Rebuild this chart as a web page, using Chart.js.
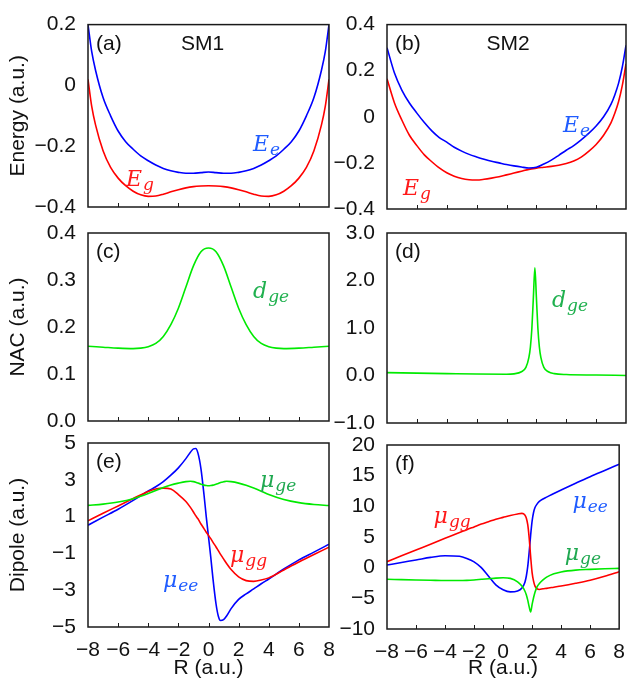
<!DOCTYPE html>
<html>
<head>
<meta charset="utf-8">
<title>SM1 / SM2 potential curves</title>
<script src="https://cdn.jsdelivr.net/npm/chart.js@4.4.0/dist/chart.umd.min.js"></script>
<style>
  html, body { margin: 0; padding: 0; background: #fff; }
  #wrap { position: relative; width: 636px; height: 681px; }
  #wrap canvas { position: absolute; left: 0; top: 0; }
</style>
</head>
<body>
<div id="wrap">
  <canvas id="pa" width="636" height="681"></canvas>
  <canvas id="pb" width="636" height="681"></canvas>
  <canvas id="pc" width="636" height="681"></canvas>
  <canvas id="pd" width="636" height="681"></canvas>
  <canvas id="pe" width="636" height="681"></canvas>
  <canvas id="pf" width="636" height="681"></canvas>
</div>
<script>
// ---- data ----
const xTicks = [-8, -6, -4, -2, 0, 2, 4, 6, 8];

// (a) SM1 energies
const rA  = [-8, -7.75, -7.5, -7, -6.5, -6, -5.5, -5, -4.5, -4, -3.5, -3, -2.5, -2, -1.5, -1, -0.5, 0,
             0.5, 1, 1.5, 2, 2.5, 3, 3.5, 4, 4.5, 5, 5.5, 6, 6.5, 7, 7.5, 7.75, 8];
const eeA = [0.20, 0.11, 0.05, -0.04, -0.10, -0.15, -0.185, -0.21, -0.232, -0.248, -0.262, -0.273, -0.281, -0.286, -0.289, -0.289, -0.287, -0.285,
             -0.287, -0.289, -0.289, -0.286, -0.281, -0.273, -0.262, -0.248, -0.232, -0.21, -0.185, -0.15, -0.10, -0.04, 0.05, 0.11, 0.20];
const egA = [0.02, -0.07, -0.13, -0.215, -0.27, -0.305, -0.33, -0.348, -0.36, -0.365, -0.364, -0.358, -0.35, -0.343, -0.337, -0.333, -0.331, -0.330,
             -0.331, -0.333, -0.337, -0.343, -0.35, -0.358, -0.364, -0.365, -0.36, -0.348, -0.33, -0.305, -0.27, -0.215, -0.13, -0.07, 0.02];
const yTicksA = [-0.4, -0.2, 0, 0.2];

// (b) SM2 energies
const rB  = [-8, -7.5, -7, -6.5, -6, -5.5, -5, -4.5, -4, -3.5, -3, -2.5, -2, -1.5, -1, -0.5, 0,
             0.5, 1, 1.5, 2, 2.5, 3, 3.5, 4, 4.5, 5, 5.5, 6, 6.5, 7, 7.25, 7.5, 7.75, 8];
const eeB = [0.30, 0.19, 0.115, 0.06, 0.016, -0.025, -0.061, -0.09, -0.11, -0.132, -0.149, -0.163, -0.174, -0.184, -0.193, -0.2, -0.207,
             -0.213, -0.218, -0.222, -0.219, -0.205, -0.188, -0.167, -0.145, -0.125, -0.1, -0.072, -0.04, 0.0, 0.055, 0.095, 0.145, 0.215, 0.31];
const egB = [0.165, 0.06, -0.015, -0.08, -0.125, -0.165, -0.195, -0.222, -0.243, -0.258, -0.268, -0.273, -0.274, -0.271, -0.266, -0.26, -0.252,
             -0.244, -0.236, -0.228, -0.223, -0.219, -0.215, -0.21, -0.203, -0.192, -0.175, -0.15, -0.12, -0.08, -0.025, 0.015, 0.065, 0.135, 0.23];
const yTicksB = [-0.4, -0.2, 0, 0.2, 0.4];

// (c) SM1 coupling
const rC  = [-8, -7, -6, -5, -4.5, -4, -3.5, -3, -2.5, -2, -1.5, -1, -0.5, 0,
             0.5, 1, 1.5, 2, 2.5, 3, 3.5, 4, 4.5, 5, 6, 7, 8];
const dgeC = [0.159, 0.157, 0.155, 0.154, 0.155, 0.158, 0.165, 0.18, 0.205, 0.24, 0.285, 0.33, 0.36, 0.368,
              0.36, 0.33, 0.285, 0.24, 0.205, 0.18, 0.165, 0.158, 0.155, 0.154, 0.155, 0.157, 0.159];
const yTicksC = [0, 0.1, 0.2, 0.3, 0.4];

// (d) SM2 coupling
const rD  = [-8, -6, -4, -2, 0, 0.5, 1, 1.3, 1.5, 1.6, 1.7, 1.8, 1.9, 2.0, 2.1, 2.2, 2.3, 2.5, 2.8, 3.2, 4, 6, 8];
const dgeD = [0.06, 0.05, 0.04, 0.03, 0.025, 0.035, 0.08, 0.17, 0.38, 0.6, 1.0, 1.65, 2.27, 1.65, 1.0, 0.6, 0.38, 0.17, 0.08, 0.04, 0.02, 0.01, 0.0];
const yTicksD = [-1, 0, 1, 2, 3];

// (e) SM1 dipoles
const rE   = [-8, -7, -6, -5, -4, -3.5, -3, -2.5, -2, -1.5, -1.2, -1, -0.85, -0.7, -0.5, -0.3, -0.15, 0,
              0.15, 0.3, 0.5, 0.65, 0.8, 1, 1.2, 1.5, 2, 2.5, 3, 3.5, 4, 5, 6, 7, 8];
const meeE = [0.53, 0.97, 1.40, 1.88, 2.39, 2.62, 2.9, 3.25, 3.65, 4.15, 4.5, 4.68, 4.7, 4.45, 3.6, 2.2, 1.0, -0.1,
              -1.2, -2.4, -3.75, -4.4, -4.65, -4.6, -4.4, -4.0, -3.5, -3.2, -2.93, -2.65, -2.39, -1.85, -1.35, -0.93, -0.5];
const mggE = [0.77, 1.18, 1.58, 1.98, 2.37, 2.5, 2.55, 2.5, 2.2, 1.82, 1.5, 1.25, 1.05, 0.88, 0.6, 0.35, 0.15, -0.02,
              -0.2, -0.4, -0.65, -0.85, -1.05, -1.3, -1.55, -1.88, -2.28, -2.48, -2.52, -2.45, -2.33, -1.9, -1.47, -1.06, -0.66];
const mgeE = [1.61, 1.68, 1.79, 1.97, 2.25, 2.42, 2.58, 2.72, 2.82, 2.9, 2.92, 2.9, 2.87, 2.82, 2.76, 2.71, 2.69, 2.68,
              2.69, 2.71, 2.76, 2.8, 2.85, 2.89, 2.92, 2.9, 2.82, 2.7, 2.55, 2.38, 2.2, 1.93, 1.76, 1.66, 1.6];
const yTicksE = [-5, -3, -1, 1, 3, 5];

// (f) SM2 dipoles
const rF   = [-8, -7, -6, -5, -4, -3, -2.5, -2, -1.5, -1, -0.5, 0, 0.5, 1, 1.3, 1.5, 1.6, 1.7, 1.8, 1.9,
              2.0, 2.1, 2.2, 2.35, 2.5, 2.75, 3, 3.5, 4, 5, 6, 7, 8];
const mggF = [0.98, 1.93, 2.88, 3.83, 4.78, 5.72, 6.2, 6.65, 7.1, 7.5, 7.9, 8.2, 8.5, 8.75, 8.85, 8.6, 8.1, 7.0, 4.8, 1.8,
              -0.8, -2.2, -3.0, -3.45, -3.55, -3.45, -3.37, -3.18, -2.99, -2.55, -2.05, -1.4, -0.65];
const meeF = [0.43, 0.85, 1.25, 1.68, 1.95, 1.85, 1.5, 0.95, 0.0, -1.4, -2.8, -3.6, -3.95, -3.8, -3.3, -2.4, -1.4, 0.2, 2.6, 5.3,
              7.6, 9.0, 9.8, 10.4, 10.8, 11.2, 11.5, 12.1, 12.66, 13.75, 14.84, 15.85, 16.85];
const mgeF = [-1.9, -1.95, -2.0, -2.05, -2.1, -2.1, -2.07, -2.0, -1.9, -1.8, -1.7, -1.65, -1.75, -2.3, -3.0, -3.8, -4.4, -5.3, -6.4, -7.2,
              -6.0, -4.9, -4.0, -3.1, -2.6, -2.0, -1.55, -1.0, -0.7, -0.4, -0.28, -0.18, -0.12];
const yTicksF = [-10, -5, 0, 5, 10, 15, 20];

// ---- drawing ----
const W = 636, H = 681;
const SANS = "'Liberation Sans', Arial, sans-serif";
const MATH = "'DejaVu Serif', serif";
const FS = 21;
const BLUE = '#0000ff', RED = '#ff0000', GREEN = '#00ea00';

const minus = s => String(s).replace('-', '\u2212');
const fmtInt = v => minus(v);
const fmtOne = v => minus(Number(v).toFixed(1));
const fmtEnergy = v => (Math.abs(v) < 1e-9 ? '0' : minus(Number(v).toFixed(1)));

function pts(xs, ys) { return xs.map((x, i) => ({ x: x, y: ys[i] })); }

// box frame, inward x ticks, panel tag and curve labels
const panelDeco = {
  id: 'panelDeco',
  afterDatasetsDraw(chart, args, opts) {
    const ctx = chart.ctx, a = chart.chartArea;
    const sx = chart.scales.x, sy = chart.scales.y;
    ctx.save();
    ctx.strokeStyle = '#1a1a1a';
    ctx.lineWidth = 1.5;
    ctx.strokeRect(a.left, a.top, a.right - a.left, a.bottom - a.top);
    ctx.lineWidth = 1;
    xTicks.forEach(v => {
      if (v <= -8 || v >= 8) return;
      const px = Math.round(sx.getPixelForValue(v)) + 0.5;
      ctx.beginPath();
      ctx.moveTo(px, a.bottom);
      ctx.lineTo(px, a.bottom - 4);
      ctx.stroke();
    });
    ctx.fillStyle = '#111';
    ctx.font = FS + 'px ' + SANS;
    ctx.textBaseline = 'alphabetic';
    ctx.textAlign = 'left';
    ctx.fillText(opts.tag, a.left + 8, a.top + 25);
    if (opts.name) {
      ctx.textAlign = 'center';
      ctx.fillText(opts.name.text, sx.getPixelForValue(opts.name.x), a.top + 25);
      ctx.textAlign = 'left';
    }
    (opts.labels || []).forEach(l => {
      let px = sx.getPixelForValue(l.x);
      const py = sy.getPixelForValue(l.y);
      ctx.fillStyle = l.color;
      ctx.font = 'italic 22px ' + MATH;
      ctx.fillText(l.main, px, py);
      px += ctx.measureText(l.main).width;
      ctx.font = 'italic 17px ' + MATH;
      ctx.fillText(l.sub, px + 1, py + 4);
    });
    ctx.restore();
  }
};

function makePanel(id, p) {
  const [L, T, R, B] = p.area;
  const yw = p.yTitle ? L : 60;
  const xh = p.bottom ? H - B : 0;
  new Chart(document.getElementById(id), {
    type: 'scatter',
    data: {
      datasets: p.series.map(s => ({
        data: pts(s.x, s.y),
        showLine: true,
        borderColor: s.color,
        borderWidth: 1.6,
        pointRadius: 0,
        fill: false,
        cubicInterpolationMode: 'monotone'
      }))
    },
    options: {
      responsive: false,
      animation: false,
      devicePixelRatio: 1,
      layout: { padding: { left: L - yw, top: T, right: W - R, bottom: H - B - xh } },
      plugins: { legend: { display: false }, tooltip: { enabled: false }, panelDeco: p.deco },
      scales: {
        x: {
          type: 'linear', min: -8, max: 8,
          grid: { display: false, drawTicks: false }, border: { display: false },
          afterBuildTicks: s => { s.ticks = xTicks.map(v => ({ value: v })); },
          afterFit: s => { s.height = xh; },
          ticks: { display: !!p.bottom, padding: 11, autoSkip: false, maxRotation: 0,
                   color: '#111', font: { family: SANS, size: FS }, callback: fmtInt },
          title: { display: !!p.bottom, text: 'R (a.u.)', color: '#111',
                   font: { family: SANS, size: FS }, padding: { top: 0, bottom: 0 } }
        },
        y: {
          type: 'linear', min: p.yMin, max: p.yMax,
          grid: { display: false, drawTicks: false }, border: { display: false },
          afterBuildTicks: s => { s.ticks = p.yTicks.map(v => ({ value: v })); },
          afterFit: s => { s.width = yw; },
          ticks: { padding: 12, autoSkip: false, color: '#111',
                   font: { family: SANS, size: FS }, callback: p.fmt },
          title: { display: !!p.yTitle, text: p.yTitle || '', color: '#111',
                   font: { family: SANS, size: FS }, padding: { top: 6, bottom: 0 } }
        }
      }
    },
    plugins: [panelDeco]
  });
}

makePanel('pa', {
  area: [88, 17, 329, 207], yMin: -0.4, yMax: 0.2, yTicks: yTicksA, fmt: fmtEnergy, yTitle: 'Energy (a.u.)',
  series: [{ x: rA, y: eeA, color: BLUE }, { x: rA, y: egA, color: RED }],
  deco: { tag: '(a)', name: { text: 'SM1', x: -0.4 }, labels: [
    { main: 'E', sub: 'e', x: 2.95, y: -0.215, color: '#1f5cff' },
    { main: 'E', sub: 'g', x: -5.48, y: -0.33, color: '#ff1a1a' }
  ] }
});

makePanel('pb', {
  area: [387, 19, 626, 209], yMin: -0.4, yMax: 0.4, yTicks: yTicksB, fmt: fmtEnergy,
  series: [{ x: rB, y: eeB, color: BLUE }, { x: rB, y: egB, color: RED }],
  deco: { tag: '(b)', name: { text: 'SM2', x: 0.1 }, labels: [
    { main: 'E', sub: 'e', x: 3.78, y: -0.067, color: '#1f5cff' },
    { main: 'E', sub: 'g', x: -6.93, y: -0.341, color: '#ff1a1a' }
  ] }
});

makePanel('pc', {
  area: [88, 233, 329, 421], yMin: 0, yMax: 0.4, yTicks: yTicksC, fmt: fmtOne, yTitle: 'NAC (a.u.)',
  series: [{ x: rC, y: dgeC, color: GREEN }],
  deco: { tag: '(c)', labels: [
    { main: 'd', sub: 'ge', x: 2.96, y: 0.262, color: '#1fb04e' }
  ] }
});

makePanel('pd', {
  area: [387, 233, 626, 423], yMin: -1, yMax: 3, yTicks: yTicksD, fmt: fmtOne,
  series: [{ x: rD, y: dgeD, color: GREEN }],
  deco: { tag: '(d)', labels: [
    { main: 'd', sub: 'ge', x: 3.04, y: 1.44, color: '#1fb04e' }
  ] }
});

makePanel('pe', {
  area: [88, 443, 329, 627], yMin: -5, yMax: 5, yTicks: yTicksE, fmt: fmtInt, yTitle: 'Dipole (a.u.)', bottom: true,
  series: [{ x: rE, y: mgeE, color: GREEN }, { x: rE, y: mggE, color: RED }, { x: rE, y: meeE, color: BLUE }],
  deco: { tag: '(e)', labels: [
    { main: '\u03bc', sub: 'ge', x: 3.42, y: 2.61, color: '#1fa850' },
    { main: '\u03bc', sub: 'gg', x: 1.43, y: -1.47, color: '#ff1a1a' },
    { main: '\u03bc', sub: 'ee', x: -3.02, y: -2.83, color: '#1f5cff' }
  ] }
});

makePanel('pf', {
  area: [387, 445, 626, 629], yMin: -10, yMax: 20, yTicks: yTicksF, fmt: fmtInt, bottom: true,
  series: [{ x: rF, y: mgeF, color: GREEN }, { x: rF, y: mggF, color: RED }, { x: rF, y: meeF, color: BLUE }],
  deco: { tag: '(f)', labels: [
    { main: '\u03bc', sub: 'ee', x: 4.78, y: 9.73, color: '#1f5cff' },
    { main: '\u03bc', sub: 'gg', x: -4.79, y: 7.28, color: '#ff1a1a' },
    { main: '\u03bc', sub: 'ge', x: 4.25, y: 1.25, color: '#1fa850' }
  ] }
});
</script>
</body>
</html>
